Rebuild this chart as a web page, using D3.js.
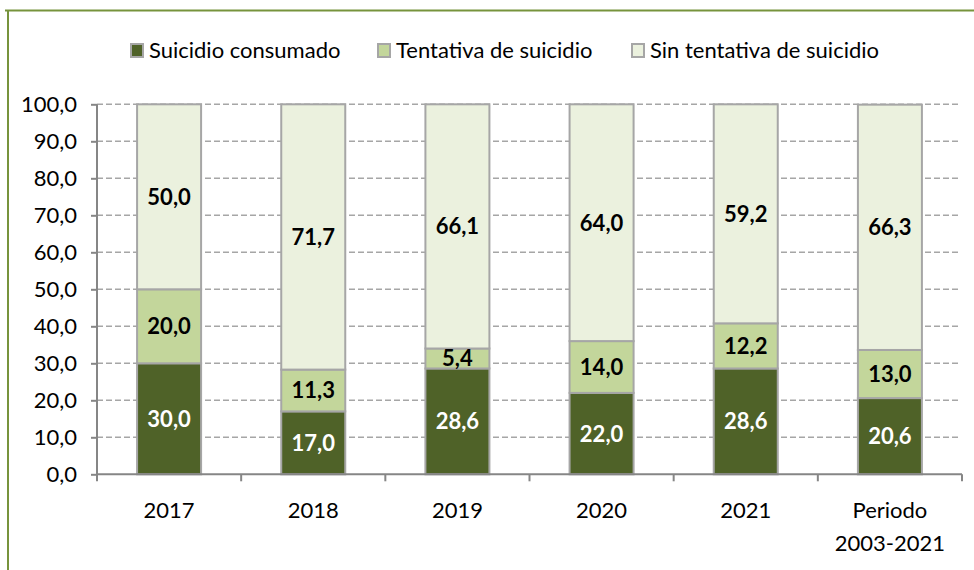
<!DOCTYPE html>
<html>
<head>
<meta charset="utf-8">
<script src="https://cdn.jsdelivr.net/npm/d3@7"></script>
<style>
  body { margin: 0; background: #fff; }
  svg text { font-family: Lato, "Liberation Sans", sans-serif; }
</style>
</head>
<body>
<div id="vis"></div>
<script>
// data
var categories = ['2017', '2018', '2019', '2020', '2021', 'Periodo|2003-2021'];
var consumado = [30.0, 17.0, 28.6, 22.0, 28.6, 20.6];
var tentativa = [20.0, 11.3, 5.4, 14.0, 12.2, 13.0];
var sinTentativa = [50.0, 71.7, 66.1, 64.0, 59.2, 66.3];
var seriesNames = ['Suicidio consumado', 'Tentativa de suicidio', 'Sin tentativa de suicidio'];
var yTicks = [0, 10, 20, 30, 40, 50, 60, 70, 80, 90, 100];

var colors = ['#4f6228', '#c3d69b', '#ebf1de'];
var labelColors = ['#ffffff', '#000000', '#000000'];
var fmt = function(v) { return v.toFixed(1).replace('.', ','); };

svg = d3.select('#vis').append('svg')
        .attr('width', 974)
        .attr('height', 570);

// outer frame (top and left edges visible)
svg.append('line')
  .attr('x1', 5).attr('x2', 974).attr('y1', 10.5).attr('y2', 10.5)
  .attr('stroke', '#77933c').attr('stroke-width', 2);
svg.append('line')
  .attr('x1', 8).attr('x2', 8).attr('y1', 10).attr('y2', 570)
  .attr('stroke', '#77933c').attr('stroke-width', 2);

var plotLeft = 97, plotRight = 962, plotTop = 104.3, plotBottom = 474.3;

var x = d3.scaleBand()
  .domain(categories)
  .range([plotLeft, plotRight])
  .paddingInner(0.556)
  .paddingOuter(0.278);

var y = d3.scaleLinear()
  .domain([0, 100])
  .range([plotBottom, plotTop]);

// gridlines
svg.append('g')
  .selectAll('line')
  .data(yTicks.filter(function(d) { return d > 0; }))
  .join('line')
  .attr('x1', plotLeft).attr('x2', 960)
  .attr('y1', function(d) { return y(d); })
  .attr('y2', function(d) { return y(d); })
  .attr('stroke', '#a6a6a6')
  .attr('stroke-width', 1.5)
  .attr('stroke-dasharray', '6,3');

// stacked data
var stackRows = categories.map(function(c, i) {
  return {cat: c, s0: consumado[i], s1: tentativa[i], s2: sinTentativa[i]};
});
var stacked = d3.stack().keys(['s0', 's1', 's2'])(stackRows);

var layers = svg.append('g')
  .selectAll('g')
  .data(stacked)
  .join('g')
  .attr('fill', function(d, i) { return colors[i]; });

layers.selectAll('rect')
  .data(function(d) { return d; })
  .join('rect')
  .attr('x', function(d) { return x(d.data.cat); })
  .attr('width', x.bandwidth())
  .attr('y', function(d) { return y(Math.min(d[1], 100)); })
  .attr('height', function(d) { return y(d[0]) - y(Math.min(d[1], 100)); })
  .attr('stroke', '#a6a6a6')
  .attr('stroke-width', 2);

// value labels
stacked.forEach(function(layer, li) {
  svg.append('g')
    .selectAll('text')
    .data(layer)
    .join('text')
    .attr('x', function(d) { return x(d.data.cat) + x.bandwidth() / 2; })
    .attr('y', function(d) { return (y(d[0]) + y(Math.min(d[1], 100))) / 2; })
    .attr('dy', '0.36em')
    .attr('text-anchor', 'middle')
    .attr('font-size', 22)
    .attr('font-weight', 'bold')
    .attr('fill', labelColors[li])
    .text(function(d) { return fmt(d[1] - d[0]); });
});

// y axis
var yAxis = svg.append('g')
  .attr('transform', 'translate(' + plotLeft + ',0)')
  .call(d3.axisLeft(y).tickValues(yTicks).tickSize(6).tickPadding(14).tickFormat(fmt));
yAxis.select('.domain').attr('stroke', '#868686').attr('stroke-width', 2)
  .attr('d', 'M0,' + plotTop + 'V' + plotBottom);
yAxis.selectAll('.tick line').attr('stroke', '#868686').attr('stroke-width', 2);
yAxis.selectAll('.tick text')
  .attr('font-size', 22)
  .attr('fill', '#000')
  .style('font-family', 'Lato, "Liberation Sans", sans-serif');

// x axis
svg.append('line')
  .attr('x1', plotLeft).attr('x2', plotRight)
  .attr('y1', plotBottom).attr('y2', plotBottom)
  .attr('stroke', '#868686').attr('stroke-width', 2);
svg.append('g')
  .selectAll('line')
  .data(d3.range(categories.length + 1))
  .join('line')
  .attr('x1', function(i) { return plotLeft + i * x.step(); })
  .attr('x2', function(i) { return plotLeft + i * x.step(); })
  .attr('y1', plotBottom).attr('y2', plotBottom + 7)
  .attr('stroke', '#868686').attr('stroke-width', 2);

var xLabels = svg.append('g')
  .selectAll('text')
  .data(categories)
  .join('text')
  .attr('x', function(d) { return x(d) + x.bandwidth() / 2; })
  .attr('y', 510)
  .attr('text-anchor', 'middle')
  .attr('font-size', 22)
  .attr('fill', '#000');
xLabels.each(function(d) {
  var parts = d.split('|');
  var t = d3.select(this);
  parts.forEach(function(p, k) {
    t.append('tspan')
      .attr('x', t.attr('x'))
      .attr('dy', k === 0 ? '0.36em' : '1.5em')
      .text(p);
  });
});

// legend
var legendX = [130, 377, 631];
var legend = svg.append('g')
  .selectAll('g')
  .data(seriesNames)
  .join('g')
  .attr('transform', function(d, i) { return 'translate(' + legendX[i] + ',43)'; });
legend.append('rect')
  .attr('x', 1).attr('y', 1)
  .attr('width', 12).attr('height', 13)
  .attr('fill', function(d, i) { return colors[i]; })
  .attr('stroke', '#a6a6a6')
  .attr('stroke-width', 2);
legend.append('text')
  .attr('x', 19)
  .attr('y', 7.5)
  .attr('dy', '0.36em')
  .attr('font-size', 22)
  .attr('fill', '#000')
  .text(function(d) { return d; });
</script>
</body>
</html>
